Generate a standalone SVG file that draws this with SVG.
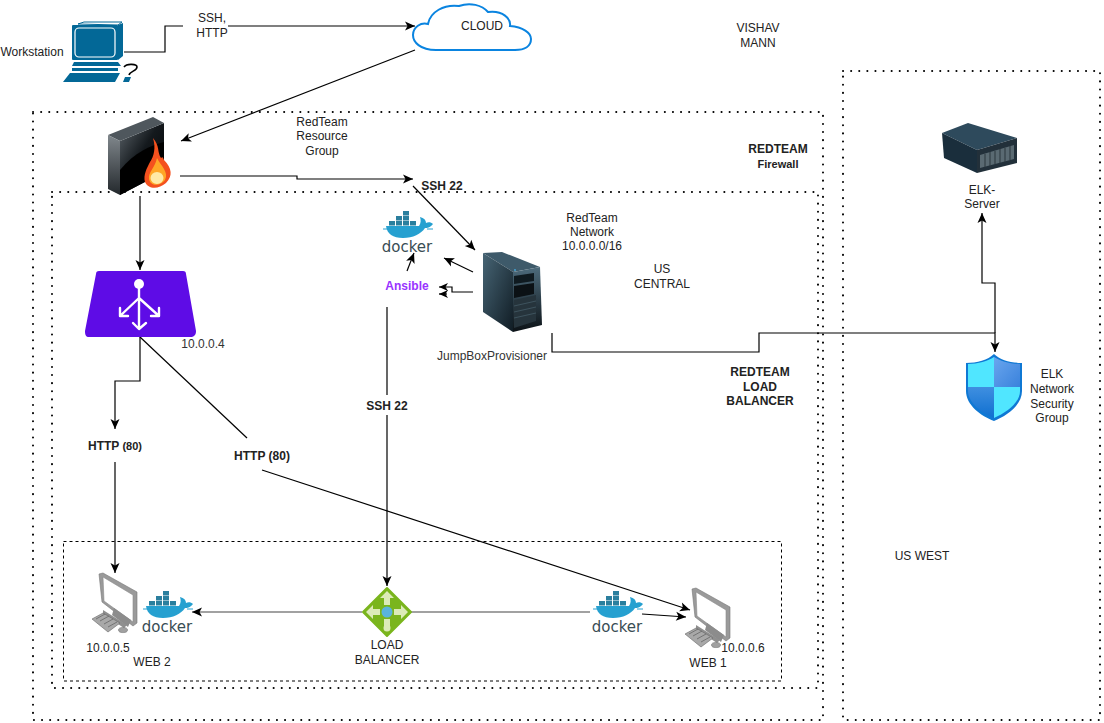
<svg xmlns="http://www.w3.org/2000/svg" width="1104" height="723" viewBox="0 0 1104 723">
<style>
text{font-family:"Liberation Sans",Arial,sans-serif;font-size:12px;fill:#222;text-anchor:middle}
.b{font-weight:bold}
.dot{fill:none;stroke:#000;stroke-width:2;stroke-dasharray:0.1 8;stroke-linecap:round}
.c{fill:none;stroke:#000;stroke-width:1.2}
.a{marker-end:url(#arr)}
.s{marker-end:url(#arrs)}
</style>
<defs>
<marker id="arr" markerUnits="userSpaceOnUse" markerWidth="14" markerHeight="12" refX="10" refY="5" orient="auto" overflow="visible"><path d="M0 .5L10 5L0 9.5L2.5 5Z" fill="#000"/></marker>
<marker id="arrs" markerUnits="userSpaceOnUse" markerWidth="12" markerHeight="10" refX="9" refY="4" orient="auto" overflow="visible"><path d="M0 0L9 4L0 8L2.5 4Z" fill="#000"/></marker>
<linearGradient id="blk" x1="0" y1="0" x2="1" y2="1"><stop offset="0" stop-color="#5b6369"/><stop offset=".45" stop-color="#14191d"/><stop offset="1" stop-color="#000"/></linearGradient>
<linearGradient id="side" x1="0" y1="0" x2="0" y2="1"><stop offset="0" stop-color="#80878c"/><stop offset="1" stop-color="#23282c"/></linearGradient>
<linearGradient id="tw" x1="0" y1="0" x2="1" y2="1"><stop offset="0" stop-color="#476575"/><stop offset="1" stop-color="#101c24"/></linearGradient>
<linearGradient id="front" x1="0" y1="0" x2="0" y2="1"><stop offset="0" stop-color="#4d6b7c"/><stop offset="1" stop-color="#0c1216"/></linearGradient>
<linearGradient id="sh" x1="0" y1="0" x2="1" y2="1"><stop offset="0" stop-color="#6aa6ee"/><stop offset="1" stop-color="#3a82dc"/></linearGradient>
<linearGradient id="sh2" x1="0" y1="0" x2="0" y2="1"><stop offset="0" stop-color="#3f8fe0"/><stop offset="1" stop-color="#0f6fd0"/></linearGradient>
<g id="docker">
<g fill="#2b7f9e"><rect x="-18" y="-11" width="6" height="4.5"/><rect x="-11" y="-11" width="6" height="4.5"/><rect x="-4" y="-11" width="6" height="4.5"/><rect x="3" y="-11" width="6" height="4.5"/><rect x="-11" y="-16" width="6" height="4.5"/><rect x="-4" y="-16" width="6" height="4.5"/><rect x="-4" y="-21" width="6" height="4.5"/></g>
<path d="M-21-6H12C14-9 14-12 13-15C17-14 19-12 19-9C21-10 24-10 26-8C23-4 20-4 18-4C14 2 6 6-4 6C-14 6-20 2-21-6Z" fill="#26a0d0"/>
<path d="M-24-3H-20M20-3H26" stroke="#26a0d0" stroke-width="1"/>
<text x="0" y="20" style="font-family:'DejaVu Sans',sans-serif;font-size:15px;fill:#394d54">docker</text>
</g>
<g id="pc">
<path d="M-1 2L3 1L37 20V51L33 54L2 30Z" fill="#9a9a9a" stroke="#777" stroke-width=".6"/>
<path d="M3 5L33 23V50L4 29Z" fill="#fff" stroke="#8a8a8a" stroke-width=".6"/>
<path d="M14 36L31 48L28 55L12 43Z" fill="#8c8c8c"/>
<path d="M3 38L27 53L24 56L3 42Z" fill="#8f8f8f"/>
<path d="M-8 47L3 41L20 51L8 60Z" fill="#a8a8a8" stroke="#666" stroke-width=".6"/>
<path d="M-4 47L5 42M0 49L9 44M4 52L13 47M8 55L17 50" stroke="#666" stroke-width=".8"/>
<ellipse cx="23" cy="58" rx="4.5" ry="2.6" fill="#a0a0a0" stroke="#666" stroke-width=".5"/>
</g>
</defs>

<g id="zones">
<rect class="dot" x="33" y="112" width="790" height="608"/>
<rect class="dot" x="52" y="192" width="766" height="496"/>
<rect class="dot" x="843" y="71" width="257" height="649"/>
<rect x="63.5" y="541.5" width="718" height="139.5" fill="none" stroke="#000" stroke-width="1" stroke-dasharray="3 3"/>
</g>

<g id="connectors">
<path class="c" d="M124 52H165V26H183"/>
<path class="c a" d="M228 26H415"/>
<path class="c a" d="M415 50L181 141"/>
<path class="c a" d="M180 176H297V179H413"/>
<path class="c a" d="M413 186L475 250"/>
<path class="c a" d="M140 196V270"/>
<path class="c a" d="M140 337V381H115V429"/>
<path class="c a" d="M115 462V573"/>
<path class="c" d="M140 337L247 438"/>
<path class="c a" d="M262 470L690 610"/>
<path class="c" d="M387 307V395"/>
<path class="c a" d="M387 415V586"/>
<path class="c" style="stroke:#444" d="M410 612H590"/>
<path class="c a" style="stroke:#444" d="M362 612H192"/>
<path class="c a" d="M642 614L686 617"/>
<path class="c a" d="M473 272L444 258"/>
<path class="c s" d="M473 292H452V287H439"/>
<path class="c s" d="M447 294H439"/>
<path class="c a" d="M407 271L414 253"/>
<path class="c a" d="M552 333V352H759V333H995V352"/>
<path class="c a" d="M995 333V283H982V213"/>
</g>

<g id="workstation">
<path d="M78 24L84 22H122L118 25Z" fill="#fff" stroke="#036897" stroke-width="1"/>
<path d="M118 25L123 23V56L118 60Z" fill="#036897"/>
<rect x="72" y="25" width="46" height="35" rx="1" fill="#036897"/>
<rect x="75" y="28" width="40" height="29" rx="4" fill="#036897" stroke="#fff" stroke-width="1.2"/>
<path d="M74 62H118L121 66H72Z" fill="#036897"/>
<path d="M72 68H118V71H72ZM70 73H120L115 82H63Z" fill="#036897"/>
<path d="M124 67C127 63 137 64 137 67C137 71 130 71 129 75" fill="none" stroke="#000" stroke-width="1.6"/>
<path d="M125 77H131L129 82H123Z" fill="#036897"/>
<text x="32" y="56">Workstation</text>
</g>
<g id="cloud">
<path d="M436 50C420 50 413 42 413 35C413 27 421 22 428 24C430 12 444 4 459 6C470 2 482 5 488 12C503 10 511 19 510 26C523 27 531 33 531 39C531 46 525 50 515 50Z" fill="#fff" stroke="#0a84e0" stroke-width="2"/>
<text x="482" y="30">CLOUD</text>
</g>
<g id="firewall">
<path d="M120 141L164 123V172L120 195Z" fill="url(#blk)"/>
<path d="M120 170C135 152 150 146 164 142V172L120 195Z" fill="#000"/>
<path d="M108 135L153 117L164 123L120 141Z" fill="#4f575d"/>
<path d="M120 141V195L108 189V135Z" fill="url(#side)"/>
<path d="M153 138C160 146 157 152 161 158C163 156 163 158 164 160C172 168 173 176 166 183C158 190 148 189 145 182C143 175 147 168 150 162C154 156 156 148 153 138Z" fill="#f4511e"/>
<path d="M157 158C161 166 169 172 165 180C160 187 150 186 149 179C148 172 155 168 157 158Z" fill="#ffa726"/>
<ellipse cx="157" cy="178" rx="6.5" ry="6" fill="#ffeaa6"/>
</g>
<g id="load-balancer-purple">
<path d="M99 271H183C185 271 186 272 186 274L196 331C196 335 194 337 190 337H89C86 337 85 335 85 331L96 274C96 272 97 271 99 271Z" fill="#5e0ce6"/>
<g stroke="#fff" stroke-width="2.4" fill="none" stroke-linecap="round" stroke-linejoin="round">
<path d="M139 285V328M139 298L120 316M139 298L159 316M133 323L139 329L146 323M120 308V316H128M159 308V316H151"/>
</g>
<circle cx="139" cy="284" r="5" fill="#fff"/>
<text x="203" y="348" style="fill:#333">10.0.0.4</text>
</g>
<g id="docker-top"><use href="#docker" x="407" y="232"/></g>
<g id="ansible"><text class="b" x="407" y="290" style="fill:#9933ff">Ansible</text></g>
<g id="jumpbox">
<path d="M483 253L502 252L540 267L513 272Z" fill="#3e5a6a"/>
<path d="M483 253L513 272V332L483 312Z" fill="url(#tw)"/>
<path d="M513 272L540 267L542 325L513 332Z" fill="url(#front)"/>
<path d="M514 276L534 273V281L514 284Z" fill="#0f1a20"/>
<path d="M514 286L534 283V294L514 298Z" fill="#0b1115"/>
<path d="M514 300L536 295V321L514 328Z" fill="#26343c"/>
<path d="M514 306L536 301M514 312L536 307M514 318L536 313" stroke="#48606c" stroke-width=".7"/>
<circle cx="515" cy="270" r=".9" fill="#4ad"/>
<text x="492" y="360" style="fill:#333">JumpBoxProvisioner</text>
</g>
<g id="elk-server">
<path d="M942 133L968 123L1017 138L977 150Z" fill="#2e4a5c"/>
<path d="M942 133L977 150V173L944 158Z" fill="#1a2e3c"/>
<path d="M977 150L1017 138V163L977 173Z" fill="#22303a"/>
<path d="M980 155L1014 145V159L980 168Z" fill="#5a6a72"/>
<path d="M985 154V167M990 152V166M995 151V164M1000 149V163M1005 148V162M1010 146V160" stroke="#2a363c" stroke-width="1"/>
<text x="982" y="194">ELK-</text>
<text x="982" y="208">Server</text>
</g>
<g id="nsg">
<path d="M994 354C1000 360 1011 363 1022 363V391C1022 405 1007 416 994 421C981 416 966 405 966 391V363C977 363 988 360 994 354Z" fill="#0f78d4"/>
<path d="M994 357V387H968V364C978 364 988 361 994 357Z" fill="#50e6ff"/>
<path d="M994 357C1000 361 1010 364 1020 364V387H994Z" fill="url(#sh)"/>
<path d="M994 387H1020V391C1020 403 1006 413 994 418Z" fill="#50e6ff"/>
<path d="M994 387V418C982 413 968 403 968 391V387Z" fill="url(#sh2)"/>
<text x="1052" y="378">ELK</text><text x="1052" y="393">Network</text><text x="1052" y="408">Security</text><text x="1052" y="422">Group</text>
</g>
<g id="web2">
<use href="#pc" x="100" y="572"/>
<use href="#docker" x="167" y="612"/>
<text x="108" y="652">10.0.0.5</text>
<text x="152" y="666">WEB 2</text>
</g>
<g id="load-balancer">
<path d="M387 588L411 612L387 636L363 612Z" fill="#7ab51d" stroke="#7ab51d" stroke-width="2" stroke-linejoin="round"/>
<path d="M387 591L394 598H390V605H384V598H380ZM366 612L373 605V609H380V615H373V619ZM408 612L401 605V609H394V615H401V619Z" fill="#dcebb8"/>
<path d="M384 619H390V627H384Z" fill="#dcebb8"/>
<circle cx="387" cy="628" r="3.5" fill="#dcebb8"/>
<circle cx="387" cy="612" r="5.5" fill="#5ab4dc"/>
<text x="387" y="649">LOAD</text>
<text x="387" y="664">BALANCER</text>
</g>
<g id="docker-web1"><use href="#docker" x="617" y="612"/></g>
<g id="web1">
<use href="#pc" x="693" y="587"/>
<text x="743" y="652">10.0.0.6</text>
<text x="708" y="667">WEB 1</text>
</g>
<g id="labels">
<text x="212" y="22">SSH,</text>
<text x="212" y="37">HTTP</text>
<text x="758" y="32">VISHAV</text>
<text x="758" y="47">MANN</text>
<text x="322" y="126">RedTeam</text>
<text x="322" y="140">Resource</text>
<text x="322" y="155">Group</text>
<text class="b" x="778" y="153">REDTEAM</text>
<text class="b" x="778" y="168" style="font-size:11px">Firewall</text>
<text class="b" x="442" y="190">SSH 22</text>
<text x="592" y="222">RedTeam</text>
<text x="592" y="236">Network</text>
<text x="592" y="250">10.0.0.0/16</text>
<text x="662" y="273">US</text>
<text x="662" y="288">CENTRAL</text>
<text class="b" x="760" y="376">REDTEAM</text>
<text class="b" x="760" y="391">LOAD</text>
<text class="b" x="760" y="405">BALANCER</text>
<text class="b" x="387" y="410">SSH 22</text>
<text class="b" x="115" y="450">HTTP <tspan style="font-size:11px">(80)</tspan></text>
<text class="b" x="262" y="460">HTTP (80)</text>
<text x="922" y="560">US WEST</text>
</g>
</svg>
